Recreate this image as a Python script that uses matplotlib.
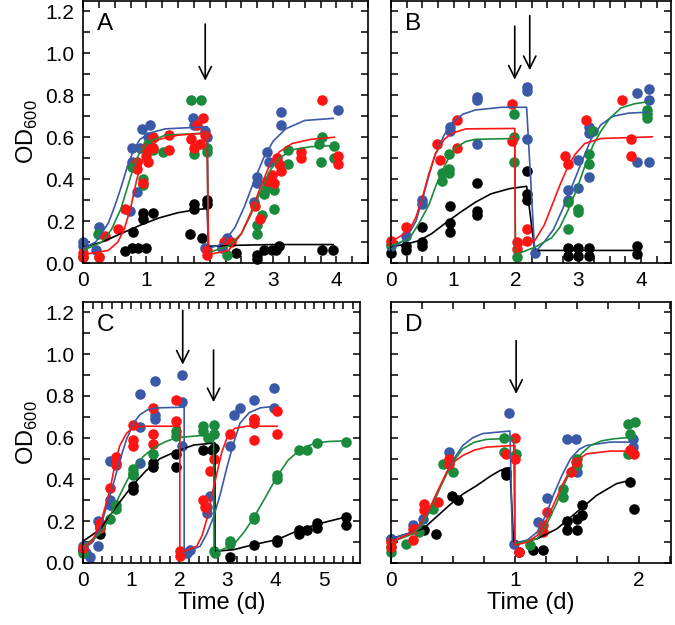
import numpy as np
import matplotlib
matplotlib.use("Agg")
import matplotlib.pyplot as plt
from matplotlib.ticker import MultipleLocator

plt.rcParams['font.family'] = ['Liberation Sans', 'DejaVu Sans']
plt.rcParams['mathtext.fontset'] = 'custom'
plt.rcParams['mathtext.rm'] = 'Liberation Sans'

BLUE = '#3a5aa8'
GREEN = '#1a8a3c'
RED = '#ff1414'
BLACK = '#000000'

# ---- panel A: measured points and fitted curves (x = days, y = OD600)
a_black = [(0.66,0.056),(0.77,0.07),(0.87,0.07),(1.0,0.07),(0.79,0.15),(0.95,0.24),(0.95,0.21),(1.11,0.24),(1.75,0.28),(1.75,0.26),(1.69,0.14),(1.88,0.12),(1.96,0.30),(1.96,0.28),(2.41,0.05),(2.75,0.04),(2.75,0.02),(2.86,0.06),(2.99,0.06),(3.04,0.06),(3.1,0.08),(3.78,0.06),(3.94,0.06)]
a_black_fit = [(0,0.075),(0.3,0.1),(0.6,0.14),(0.9,0.18),(1.2,0.215),(1.5,0.24),(1.8,0.255),(1.96,0.26),(1.98,0.08),(2.5,0.085),(3.0,0.088),(3.95,0.088)]
a_blue = [(0.0,0.10),(0.0,0.08),(0.26,0.17),(0.21,0.06),(0.77,0.48),(0.77,0.55),(0.9,0.55),(0.85,0.34),(0.74,0.25),(0.93,0.64),(1.06,0.66),(1.03,0.6),(1.74,0.69),(1.75,0.66),(1.93,0.63),(1.95,0.60),(1.93,0.07),(2.2,0.07),(2.28,0.12),(2.7,0.29),(2.75,0.41),(2.75,0.38),(2.91,0.53),(2.94,0.48),(3.12,0.72),(3.12,0.66),(4.02,0.73),(4.0,0.5)]
a_blue_fit = [(0,0.07),(0.2,0.1),(0.4,0.19),(0.5,0.27),(0.6,0.36),(0.7,0.46),(0.8,0.54),(0.9,0.59),(1.05,0.62),(1.3,0.64),(1.96,0.65),(1.98,0.07),(2.2,0.09),(2.4,0.17),(2.55,0.27),(2.7,0.39),(2.85,0.5),(3.0,0.58),(3.2,0.64),(3.5,0.68),(3.95,0.69)]
a_red = [(0,0.05),(0,0.03),(0.26,0.03),(0.34,0.13),(0.56,0.16),(0.66,0.26),(0.85,0.48),(0.85,0.45),(0.95,0.38),(1.0,0.55),(1.0,0.51),(1.03,0.48),(1.11,0.6),(1.11,0.55),(1.35,0.61),(1.35,0.54),(1.70,0.59),(1.8,0.66),(1.9,0.69),(1.75,0.55),(1.85,0.57),(1.93,0.61),(1.96,0.06),(1.96,0.04),(2.22,0.1),(2.33,0.1),(2.72,0.27),(2.8,0.21),(2.91,0.39),(2.99,0.42),(3.02,0.38),(3.07,0.5),(3.1,0.47),(3.12,0.44),(3.44,0.53),(3.44,0.5),(3.78,0.78),(4.02,0.47),(4.02,0.51)]
a_red_fit = [(0,0.04),(0.4,0.06),(0.55,0.1),(0.65,0.16),(0.75,0.26),(0.85,0.4),(0.95,0.5),(1.05,0.55),(1.2,0.59),(1.5,0.61),(1.96,0.62),(1.98,0.04),(2.3,0.06),(2.5,0.14),(2.65,0.24),(2.8,0.36),(2.95,0.47),(3.1,0.53),(3.3,0.57),(3.6,0.59),(3.97,0.6)]
a_green = [(0,0.03),(0.26,0.03),(0.24,0.14),(0.77,0.46),(0.95,0.40),(0.95,0.37),(1.03,0.57),(1.11,0.54),(1.27,0.53),(1.70,0.78),(1.87,0.78),(1.75,0.52),(1.96,0.55),(1.96,0.53),(2.28,0.04),(2.75,0.18),(2.75,0.14),(2.83,0.23),(2.86,0.33),(2.91,0.36),(3.02,0.35),(3.02,0.26),(3.23,0.54),(3.23,0.47),(3.73,0.57),(3.76,0.48),(3.78,0.6),(3.97,0.56),(3.97,0.5)]
a_green_fit = [(0,0.06),(0.3,0.1),(0.45,0.16),(0.6,0.26),(0.7,0.36),(0.8,0.46),(0.9,0.53),(1.05,0.58),(1.3,0.61),(1.96,0.62),(1.98,0.05),(2.3,0.08),(2.5,0.14),(2.65,0.23),(2.8,0.34),(2.95,0.44),(3.1,0.5),(3.3,0.54),(3.6,0.555),(3.97,0.56)]
a_arrows = [(1.93, 1.14, 0.87)]

# ---- panel B
b_black = [(0,0.05),(0.24,0.06),(0.24,0.08),(0.5,0.1),(0.5,0.08),(0.5,0.17),(0.95,0.27),(0.95,0.19),(0.95,0.15),(1.38,0.38),(1.38,0.25),(1.38,0.23),(2.17,0.44),(2.17,0.33),(2.17,0.30),(2.83,0.07),(2.83,0.035),(2.99,0.07),(2.99,0.035),(3.17,0.07),(3.17,0.035),(3.94,0.083),(3.94,0.043)]
b_black_fit = [(0,0.078),(0.25,0.09),(0.45,0.107),(0.65,0.14),(0.87,0.19),(1.1,0.24),(1.35,0.29),(1.6,0.33),(1.9,0.355),(2.17,0.366),(2.3,0.06),(3.94,0.06)]
b_blue = [(0,0.083),(0.24,0.13),(0.5,0.3),(0.5,0.28),(0.95,0.65),(0.95,0.63),(1.38,0.79),(1.38,0.78),(1.38,0.57),(2.17,0.84),(2.17,0.82),(2.17,0.59),(2.3,0.05),(2.83,0.35),(2.83,0.30),(2.99,0.49),(2.99,0.36),(3.17,0.65),(3.17,0.62),(3.17,0.41),(3.94,0.81),(3.94,0.48),(4.13,0.83),(4.13,0.78),(4.13,0.48)]
b_blue_fit = [(0,0.067),(0.24,0.115),(0.4,0.2),(0.5,0.3),(0.6,0.41),(0.71,0.52),(0.85,0.61),(0.98,0.67),(1.15,0.71),(1.35,0.73),(1.77,0.743),(2.17,0.743),(2.3,0.05),(2.45,0.1),(2.6,0.16),(2.75,0.26),(2.9,0.37),(3.05,0.48),(3.2,0.59),(3.36,0.66),(3.55,0.7),(3.8,0.715),(4.13,0.72)]
b_red = [(0,0.107),(0.24,0.17),(0.74,0.57),(0.79,0.49),(1.06,0.68),(1.06,0.55),(1.93,0.76),(1.93,0.58),(2.01,0.1),(2.01,0.067),(2.17,0.163),(2.17,0.107),(2.78,0.51),(2.83,0.47),(3.12,0.68),(3.7,0.78),(3.84,0.59),(3.84,0.51)]
b_red_fit = [(0,0.1),(0.29,0.155),(0.4,0.22),(0.5,0.31),(0.6,0.42),(0.71,0.52),(0.85,0.59),(0.98,0.62),(1.2,0.64),(1.98,0.642),(1.99,0.075),(2.3,0.107),(2.45,0.18),(2.57,0.27),(2.7,0.37),(2.83,0.46),(2.95,0.52),(3.1,0.57),(3.36,0.594),(4.18,0.602)]
b_green = [(0,0.09),(0.82,0.43),(0.82,0.39),(0.93,0.45),(0.93,0.52),(0.93,0.43),(1.96,0.71),(1.96,0.6),(1.96,0.48),(2.01,0.027),(2.83,0.29),(2.83,0.16),(2.99,0.26),(2.99,0.245),(3.17,0.52),(3.17,0.47),(3.23,0.63),(4.1,0.73),(4.1,0.71),(4.1,0.69)]
b_green_fit = [(0,0.083),(0.29,0.115),(0.45,0.19),(0.61,0.28),(0.72,0.37),(0.82,0.44),(0.92,0.5),(1.03,0.55),(1.2,0.58),(1.35,0.59),(1.98,0.594),(1.99,0.04),(2.3,0.075),(2.57,0.12),(2.7,0.17),(2.83,0.25),(2.97,0.35),(3.1,0.46),(3.23,0.56),(3.36,0.63),(3.5,0.69),(3.68,0.74),(3.9,0.76),(4.13,0.77)]
b_arrows = [(1.98, 1.13, 0.875), (2.22, 1.18, 0.92)]

# ---- panel C
c_black = [(0,0.064),(0.35,0.18),(0.35,0.14),(1.04,0.37),(1.04,0.35),(1.46,0.46),(1.46,0.48),(1.94,0.46),(1.94,0.52),(2.5,0.54),(2.67,0.54),(2.71,0.55),(3.06,0.03),(3.54,0.088),(4.03,0.11),(4.03,0.1),(4.48,0.16),(4.48,0.14),(4.65,0.16),(4.86,0.19),(4.86,0.17),(5.45,0.22),(5.45,0.18)]
c_black_fit = [(0,0.104),(0.35,0.16),(0.69,0.27),(1.04,0.375),(1.3,0.44),(1.6,0.5),(1.94,0.535),(2.3,0.565),(2.74,0.575),(2.74,0.056),(3.13,0.064),(3.54,0.088),(4.03,0.112),(4.51,0.16),(4.93,0.19),(5.45,0.22)]
c_blue = [(0,0.08),(0.07,0.05),(0.14,0.03),(0.31,0.08),(0.31,0.2),(0.56,0.49),(0.56,0.3),(0.56,0.28),(1.18,0.48),(1.18,0.65),(1.18,0.81),(1.49,0.87),(1.49,0.71),(1.49,0.69),(2.05,0.90),(2.05,0.77),(2.05,0.56),(2.08,0.05),(2.15,0.05),(2.22,0.06),(2.57,0.27),(2.57,0.24),(2.64,0.32),(3.06,0.56),(3.13,0.71),(3.26,0.74),(3.54,0.69),(3.54,0.78),(3.96,0.84),(3.96,0.74)]
c_blue_fit = [(0,0.064),(0.2,0.1),(0.35,0.16),(0.5,0.28),(0.62,0.37),(0.75,0.48),(0.9,0.59),(1.05,0.67),(1.18,0.71),(1.35,0.735),(1.53,0.743),(2.1,0.746),(2.1,0.048),(2.43,0.08),(2.57,0.14),(2.71,0.22),(2.85,0.33),(2.99,0.46),(3.12,0.57),(3.26,0.67),(3.45,0.72),(3.68,0.743),(3.96,0.75)]
c_red = [(0,0.072),(0.35,0.19),(0.35,0.17),(0.56,0.36),(0.69,0.51),(0.69,0.48),(0.69,0.47),(1.04,0.66),(1.04,0.59),(1.04,0.56),(1.46,0.74),(1.46,0.62),(1.46,0.57),(1.94,0.78),(1.94,0.68),(2.01,0.056),(2.01,0.032),(2.5,0.30),(2.53,0.27),(2.64,0.44),(2.71,0.5),(3.06,0.62),(3.54,0.69),(3.54,0.67),(3.54,0.59),(4.03,0.73),(4.03,0.62)]
c_red_fit = [(0,0.067),(0.2,0.11),(0.35,0.18),(0.45,0.26),(0.56,0.35),(0.66,0.47),(0.76,0.56),(0.9,0.62),(1.04,0.65),(1.3,0.655),(2.01,0.655),(2.01,0.048),(2.36,0.08),(2.47,0.13),(2.57,0.21),(2.67,0.32),(2.78,0.43),(2.88,0.53),(2.99,0.6),(3.15,0.645),(3.4,0.655),(4.03,0.655)]
c_green = [(0,0.048),(0.35,0.17),(0.56,0.21),(0.69,0.28),(0.69,0.26),(1.04,0.45),(1.04,0.43),(1.04,0.42),(1.46,0.52),(1.94,0.63),(1.94,0.61),(2.5,0.655),(2.5,0.63),(2.6,0.60),(2.71,0.66),(2.71,0.62),(2.71,0.056),(2.74,0.048),(3.06,0.104),(3.06,0.09),(3.54,0.22),(3.54,0.21),(4.03,0.42),(4.03,0.40),(4.48,0.54),(4.65,0.54),(4.86,0.575),(5.45,0.58)]
c_green_fit = [(0,0.08),(0.35,0.14),(0.52,0.2),(0.69,0.29),(0.86,0.37),(1.04,0.45),(1.25,0.51),(1.46,0.55),(1.7,0.58),(1.94,0.6),(2.43,0.61),(2.71,0.615),(2.72,0.048),(3.13,0.088),(3.35,0.15),(3.54,0.216),(3.8,0.32),(4.03,0.415),(4.25,0.49),(4.44,0.53),(4.65,0.56),(4.86,0.575),(5.1,0.582),(5.45,0.585)]
c_arrows = [(2.07, 1.21, 0.95), (2.71, 1.02, 0.77)]

# ---- panel D
d_black = [(0,0.116),(0.27,0.16),(0.36,0.14),(0.49,0.32),(0.54,0.3),(0.93,0.435),(0.93,0.42),(1.03,0.053),(1.15,0.06),(1.23,0.06),(1.42,0.2),(1.42,0.16),(1.5,0.21),(1.5,0.16),(1.54,0.28),(1.54,0.23),(1.93,0.39),(1.96,0.26)]
d_black_fit = [(0,0.116),(0.26,0.164),(0.47,0.276),(0.58,0.33),(0.69,0.37),(0.8,0.415),(0.88,0.443),(0.96,0.456),(0.99,0.093),(1.18,0.116),(1.34,0.164),(1.5,0.244),(1.66,0.324),(1.82,0.38),(1.93,0.396)]
d_blue = [(0,0.116),(0.18,0.18),(0.26,0.21),(0.47,0.53),(0.95,0.72),(0.99,0.093),(1.19,0.196),(1.26,0.31),(1.42,0.595),(1.49,0.595),(1.5,0.435),(1.95,0.595),(1.95,0.555)]
d_blue_fit = [(0,0.116),(0.18,0.148),(0.25,0.19),(0.31,0.244),(0.38,0.34),(0.45,0.435),(0.52,0.51),(0.58,0.563),(0.66,0.6),(0.74,0.62),(0.96,0.632),(0.98,0.093),(1.1,0.11),(1.18,0.148),(1.25,0.23),(1.31,0.324),(1.38,0.42),(1.45,0.5),(1.52,0.545),(1.58,0.563),(1.77,0.579),(1.96,0.579)]
d_red = [(0,0.1),(0,0.077),(0.18,0.164),(0.18,0.108),(0.27,0.284),(0.27,0.252),(0.38,0.29),(0.47,0.5),(0.47,0.475),(0.93,0.52),(1.0,0.6),(1.0,0.5),(1.03,0.053),(1.23,0.18),(1.23,0.148),(1.26,0.244),(1.45,0.435),(1.49,0.483),(1.93,0.54),(1.96,0.523)]
d_red_fit = [(0,0.1),(0.18,0.148),(0.25,0.2),(0.31,0.26),(0.38,0.35),(0.45,0.435),(0.52,0.49),(0.58,0.515),(0.67,0.54),(0.77,0.555),(1.0,0.563),(1.0,0.085),(1.1,0.1),(1.18,0.132),(1.25,0.2),(1.31,0.276),(1.38,0.37),(1.45,0.45),(1.52,0.5),(1.58,0.523),(1.77,0.536),(1.96,0.536)]
d_green = [(0,0.077),(0,0.053),(0.12,0.093),(0.23,0.148),(0.34,0.26),(0.42,0.475),(0.5,0.435),(0.91,0.6),(0.91,0.53),(1.01,0.523),(1.12,0.085),(1.39,0.355),(1.39,0.316),(1.5,0.5),(1.5,0.467),(1.91,0.667),(1.97,0.675),(1.93,0.62),(1.91,0.523)]
d_green_fit = [(0,0.1),(0.18,0.14),(0.25,0.18),(0.31,0.244),(0.38,0.34),(0.45,0.427),(0.52,0.5),(0.58,0.547),(0.67,0.578),(0.77,0.592),(0.99,0.598),(1.0,0.093),(1.18,0.116),(1.26,0.19),(1.34,0.29),(1.4,0.38),(1.47,0.467),(1.54,0.525),(1.61,0.563),(1.7,0.585),(1.8,0.595),(1.96,0.603)]
d_arrows = [(1.01, 1.065, 0.81)]

W, H = 675, 625
fig = plt.figure(figsize=(W / 100, H / 100), dpi=100)


def make_ax(l, r, t, b):
    return fig.add_axes([l / W, 1 - b / H, (r - l) / W, (b - t) / H])


panels = [
    # letter, box px, xlim, x minor, left labels, bottom label, data
    ('A', (83, 368, 1, 263), 4.5, 0.25, True, False,
     [(a_black, a_black_fit, BLACK), (a_blue, a_blue_fit, BLUE), (a_green, a_green_fit, GREEN), (a_red, a_red_fit, RED)], a_arrows),
    ('B', (391, 671, 1, 263), 4.48, 0.25, False, False,
     [(b_black, b_black_fit, BLACK), (b_blue, b_blue_fit, BLUE), (b_green, b_green_fit, GREEN), (b_red, b_red_fit, RED)], b_arrows),
    ('C', (83, 360, 302, 563), 5.75, 0.2, True, True,
     [(c_black, c_black_fit, BLACK), (c_blue, c_blue_fit, BLUE), (c_green, c_green_fit, GREEN), (c_red, c_red_fit, RED)], c_arrows),
    ('D', (391, 671, 302, 563), 2.26, 0.25, False, True,
     [(d_black, d_black_fit, BLACK), (d_blue, d_blue_fit, BLUE), (d_green, d_green_fit, GREEN), (d_red, d_red_fit, RED)], d_arrows),
]

for letter, box, xmax, xminor, ylab, xlab, series, arrows in panels:
    ax = make_ax(*box)
    for pts, fit, col in series:
        px, py = zip(*pts)
        ax.plot(px, py, 'o', ms=7.6, color=col, mec='none', clip_on=False, zorder=2)
    for pts, fit, col in series:
        fx, fy = zip(*fit)
        ax.plot(fx, fy, '-', lw=1.2, color=col, zorder=3)
    for x, top, tip in arrows:
        ax.annotate('', xy=(x, tip), xytext=(x, top),
                    arrowprops=dict(arrowstyle='->', lw=1.2, color='black',
                                    mutation_scale=22, shrinkA=0, shrinkB=0))
    ax.set_xlim(0, xmax)
    ax.set_ylim(0, 1.25)
    ax.xaxis.set_major_locator(MultipleLocator(1))
    ax.xaxis.set_minor_locator(MultipleLocator(xminor))
    ax.yaxis.set_major_locator(MultipleLocator(0.2))
    ax.yaxis.set_minor_locator(MultipleLocator(0.1))
    ax.tick_params(which='both', direction='in', top=True, right=True,
                   length=5, width=1.1, labelsize=15, pad=6)
    for s in ax.spines.values():
        s.set_linewidth(1.2)
    if ylab:
        ax.set_yticks(np.arange(0, 1.21, 0.2))
        ax.set_yticklabels(['%.1f' % v for v in np.arange(0, 1.21, 0.2)])
        ax.set_ylabel(r'OD$_{\mathrm{600}}$', fontsize=17, labelpad=4)
    else:
        ax.set_yticklabels([])
    if xlab:
        ax.set_xlabel('Time (d)', fontsize=17, labelpad=1)
    ax.text(0.05, 0.955, letter, transform=ax.transAxes, fontsize=17.5,
            ha='left', va='top')

fig.savefig('out.png', dpi=100)
